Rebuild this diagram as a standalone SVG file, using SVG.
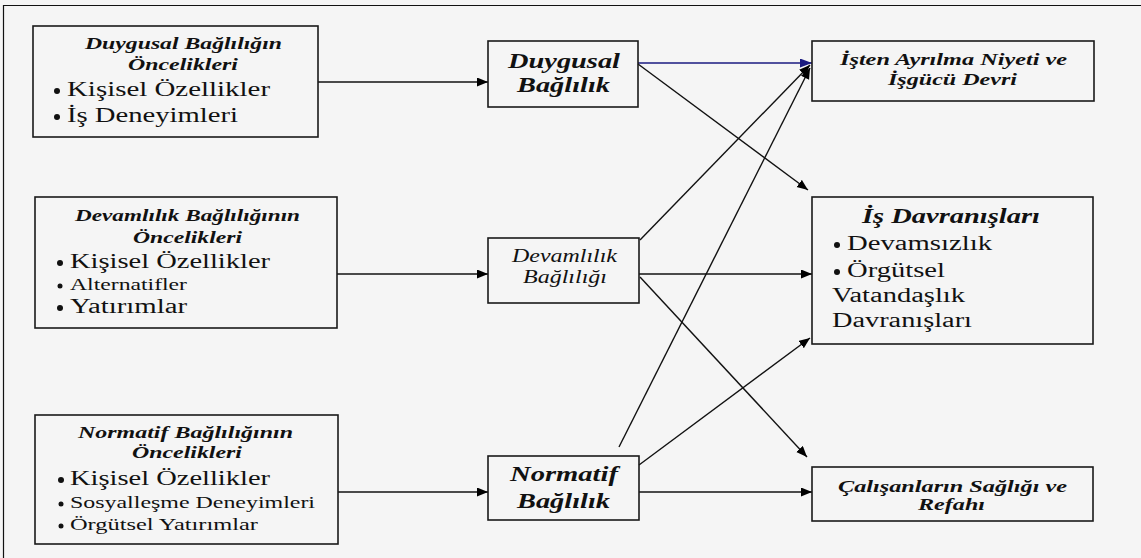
<svg xmlns="http://www.w3.org/2000/svg" width="1141" height="558" viewBox="0 0 1141 558">
<defs>
<style>
.box{fill:none;stroke:#1a1a1a;stroke-width:1.6}
.t{font-family:'Liberation Serif','Times New Roman',Times,serif;fill:#111}
.bi{font-style:italic;font-weight:bold}
.i{font-style:italic}
.ln{stroke:#111;stroke-width:1.4;fill:none}
.blue{stroke:#1a1a80;stroke-width:1.6;fill:none}
</style>
<marker id="ah" markerUnits="userSpaceOnUse" markerWidth="12" markerHeight="10" refX="11" refY="4.5" orient="auto">
<path d="M0,0 L11,4.5 L0,9 z" fill="#000"/>
</marker>
<marker id="ahb" markerUnits="userSpaceOnUse" markerWidth="14" markerHeight="10" refX="12" refY="4.5" orient="auto">
<path d="M0,0 L12,4.5 L0,9 z" fill="#1a1a80"/>
</marker>
</defs>
<rect x="0" y="0" width="1141" height="558" fill="#f5f5f5"/>
<path d="M3.5,558 L3.5,5.5 L1141,5.5" fill="none" stroke="#111" stroke-width="1.2"/>

<g id="connectors">
<line class="ln" x1="318" y1="82" x2="488" y2="82" marker-end="url(#ah)"/>
<line class="ln" x1="337" y1="274" x2="488" y2="274" marker-end="url(#ah)"/>
<line class="ln" x1="338" y1="492" x2="488" y2="492" marker-end="url(#ah)"/>
<line class="blue" x1="638" y1="63" x2="812" y2="63" marker-end="url(#ahb)"/>
<line class="ln" x1="638" y1="64" x2="808" y2="190" marker-end="url(#ah)"/>
<line class="ln" x1="640" y1="240" x2="810" y2="65" marker-end="url(#ah)"/>
<line class="ln" x1="619" y1="447" x2="810" y2="68" marker-end="url(#ah)"/>
<line class="ln" x1="639" y1="274" x2="812" y2="274" marker-end="url(#ah)"/>
<line class="ln" x1="640" y1="277" x2="807" y2="457" marker-end="url(#ah)"/>
<line class="ln" x1="639" y1="465" x2="810" y2="338" marker-end="url(#ah)"/>
<line class="ln" x1="639" y1="492" x2="812" y2="492" marker-end="url(#ah)"/>
</g>

<g id="n-duygusal-oncelik">
<rect class="box" x="33" y="26" width="285" height="111"/>
<text class="t bi" x="85" y="49" font-size="17" textLength="197" lengthAdjust="spacingAndGlyphs">Duygusal Bağlılığın</text>
<text class="t bi" x="128" y="70" font-size="17" textLength="110" lengthAdjust="spacingAndGlyphs">Öncelikleri</text>
<circle cx="57" cy="91" r="3" fill="#111"/>
<text class="t" x="67" y="96" font-size="20.5" textLength="203" lengthAdjust="spacingAndGlyphs">Kişisel Özellikler</text>
<circle cx="57" cy="117" r="3" fill="#111"/>
<text class="t" x="67" y="122" font-size="20.5" textLength="171" lengthAdjust="spacingAndGlyphs">İş Deneyimleri</text>
</g>

<g id="n-devamlilik-oncelik">
<rect class="box" x="35" y="197" width="302" height="131"/>
<text class="t bi" x="75" y="221" font-size="17" textLength="225" lengthAdjust="spacingAndGlyphs">Devamlılık Bağlılığının</text>
<text class="t bi" x="133" y="243" font-size="17" textLength="109" lengthAdjust="spacingAndGlyphs">Öncelikleri</text>
<circle cx="60" cy="263" r="3" fill="#111"/>
<text class="t" x="70" y="268" font-size="20.5" textLength="200" lengthAdjust="spacingAndGlyphs">Kişisel Özellikler</text>
<circle cx="60" cy="286" r="2.5" fill="#111"/>
<text class="t" x="70" y="290" font-size="16" textLength="117" lengthAdjust="spacingAndGlyphs">Alternatifler</text>
<circle cx="60" cy="308" r="3" fill="#111"/>
<text class="t" x="70" y="313" font-size="20.5" textLength="117" lengthAdjust="spacingAndGlyphs">Yatırımlar</text>
</g>

<g id="n-normatif-oncelik">
<rect class="box" x="35" y="415" width="303" height="129"/>
<text class="t bi" x="78" y="438" font-size="17" textLength="215" lengthAdjust="spacingAndGlyphs">Normatif Bağlılığının</text>
<text class="t bi" x="132" y="458" font-size="17" textLength="110" lengthAdjust="spacingAndGlyphs">Öncelikleri</text>
<circle cx="61" cy="480" r="3" fill="#111"/>
<text class="t" x="70" y="485" font-size="20.5" textLength="200" lengthAdjust="spacingAndGlyphs">Kişisel Özellikler</text>
<circle cx="61" cy="504" r="2.5" fill="#111"/>
<text class="t" x="70" y="508" font-size="16" textLength="245" lengthAdjust="spacingAndGlyphs">Sosyalleşme Deneyimleri</text>
<circle cx="61" cy="526" r="2.5" fill="#111"/>
<text class="t" x="70" y="530" font-size="16" textLength="188" lengthAdjust="spacingAndGlyphs">Örgütsel Yatırımlar</text>
</g>

<g id="n-duygusal">
<rect class="box" x="488" y="41" width="150" height="66"/>
<text class="t bi" x="508" y="68" font-size="21" textLength="112" lengthAdjust="spacingAndGlyphs">Duygusal</text>
<text class="t bi" x="517" y="92" font-size="21" textLength="93" lengthAdjust="spacingAndGlyphs">Bağlılık</text>
</g>

<g id="n-devamlilik">
<rect class="box" x="488" y="238" width="151" height="65"/>
<text class="t i" x="512" y="262" font-size="18" textLength="105" lengthAdjust="spacingAndGlyphs">Devamlılık</text>
<text class="t i" x="523" y="283" font-size="18" textLength="84" lengthAdjust="spacingAndGlyphs">Bağlılığı</text>
</g>

<g id="n-normatif">
<rect class="box" x="488" y="456" width="151" height="64"/>
<text class="t bi" x="510" y="481" font-size="21" textLength="108" lengthAdjust="spacingAndGlyphs">Normatif</text>
<text class="t bi" x="517" y="508" font-size="21" textLength="93" lengthAdjust="spacingAndGlyphs">Bağlılık</text>
</g>

<g id="n-isten-ayrilma">
<rect class="box" x="812" y="41" width="282" height="60"/>
<text class="t bi" x="840" y="65" font-size="16" textLength="227" lengthAdjust="spacingAndGlyphs">İşten Ayrılma Niyeti ve</text>
<text class="t bi" x="888" y="85" font-size="16" textLength="129" lengthAdjust="spacingAndGlyphs">İşgücü Devri</text>
</g>

<g id="n-is-davranislari">
<rect class="box" x="812" y="197" width="281" height="147"/>
<text class="t bi" x="862" y="223" font-size="21" textLength="178" lengthAdjust="spacingAndGlyphs">İş Davranışları</text>
<circle cx="837" cy="245" r="3" fill="#111"/>
<text class="t" x="847" y="250" font-size="20.5" textLength="145" lengthAdjust="spacingAndGlyphs">Devamsızlık</text>
<circle cx="837" cy="272" r="3" fill="#111"/>
<text class="t" x="847" y="277" font-size="20.5" textLength="98" lengthAdjust="spacingAndGlyphs">Örgütsel</text>
<text class="t" x="832" y="302" font-size="20.5" textLength="133" lengthAdjust="spacingAndGlyphs">Vatandaşlık</text>
<text class="t" x="832" y="327" font-size="20.5" textLength="140" lengthAdjust="spacingAndGlyphs">Davranışları</text>
</g>

<g id="n-calisanlar">
<rect class="box" x="812" y="467" width="281" height="54"/>
<text class="t bi" x="838" y="492" font-size="16" textLength="229" lengthAdjust="spacingAndGlyphs">Çalışanların Sağlığı ve</text>
<text class="t bi" x="918" y="510" font-size="16" textLength="67" lengthAdjust="spacingAndGlyphs">Refahı</text>
</g>
</svg>
